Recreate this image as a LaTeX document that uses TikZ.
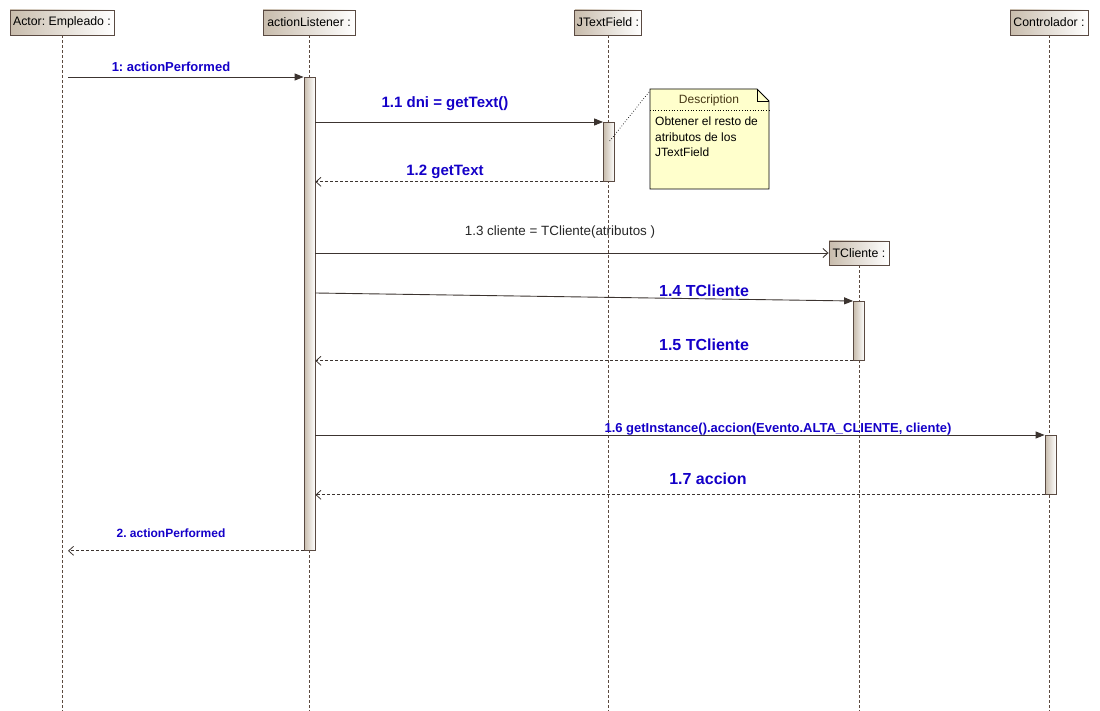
\documentclass[tikz,border=0pt]{standalone}
\usepackage{fontspec}
\setmainfont{Liberation Sans}
\usetikzlibrary{arrows.meta,calc}
\frenchspacing

\definecolor{hdr}{RGB}{90,74,66}
\definecolor{tanfill}{RGB}{200,188,172}
\definecolor{lline}{RGB}{92,74,64}
\definecolor{msg}{RGB}{60,52,48}
\definecolor{lblue}{RGB}{20,0,200}
\definecolor{notefill}{RGB}{255,255,204}
\definecolor{notehead}{RGB}{70,55,20}

\begin{document}
\begin{tikzpicture}[x=1pt,y=-1pt,
  head/.style={draw=hdr, line width=0.9pt, left color=tanfill, right color=white,
    minimum height=25pt, inner sep=2pt, text=black, font=\fontsize{12.3}{14}\selectfont},
  act/.style={draw=hdr, line width=0.8pt, left color=tanfill, right color=white,
    minimum width=11pt, inner sep=0pt},
  lifeline/.style={draw=lline, line width=0.8pt, dash pattern=on 3pt off 2pt},
  sync/.style={draw=msg, line width=0.9pt, -{Triangle[length=9pt,width=7pt]}},
  ret/.style={draw=msg, line width=0.8pt, dash pattern=on 3pt off 2pt,
    -{Straight Barb[length=5pt,width=9pt]}},
  create/.style={draw=msg, line width=0.9pt, -{Straight Barb[length=5pt,width=9pt]}},
  lbl/.style={text=lblue, inner sep=0pt, font=\bfseries\fontsize{#1}{#1}\selectfont},
  plain/.style={text=black!85, inner sep=0pt, font=\fontsize{13.4}{15}\selectfont}
]
\useasboundingbox (0,0) rectangle (1100,711);
\coordinate (bot) at (0,711);

% object heads
\node[head, minimum width=104pt] (emp) at (62,22.5) {Actor: Empleado :};
\node[head, minimum width=92pt]  (al)  at (309,22.5) {actionListener :};
\node[head, minimum width=66pt]  (jt)  at (608,22.5) {JTextField :};
\node[head, minimum width=78pt]  (ct)  at (1049,22.5) {Controlador :};
\node[head, minimum width=60pt, minimum height=24pt] (tc) at (859,253) {TCliente :};

% lifelines
\draw[lifeline] (emp.south) -- (emp.south |- bot);
\draw[lifeline] (al.south) -- (al.south |- bot);
\draw[lifeline] (jt.south) -- (jt.south |- bot);
\draw[lifeline] (ct.south) -- (ct.south |- bot);
\draw[lifeline] (tc.south) -- (tc.south |- bot);

% activation bars
\node[act, minimum height=473pt, anchor=north] (alA) at (309.5,77) {};
\node[act, minimum height=59pt, anchor=north]  (jtA) at (609,122) {};
\node[act, minimum height=59pt, anchor=north]  (tcA) at (859,301) {};
\node[act, minimum height=59pt, anchor=north]  (ctA) at (1050.5,435) {};

% messages
\draw[sync] ($(emp.south |- alA.north)+(6,0)$) -- (alA.north west);
\node[lbl=13] (m1) at (171,67) {1: actionPerformed};

\draw[sync] (alA.east |- jtA.north) -- (jtA.north west);
\node[lbl=15] (m11) at (445,104) {1.1 dni = getText()};

\draw[ret] (jtA.south west) -- (alA.east |- jtA.south);
\node[lbl=15] (m12) at (445,172) {1.2 getText};

\draw[create] (alA.east |- tc.west) -- (tc.west);
\node[plain] (m13) at (560,232) {1.3 cliente = TCliente(atributos )};

\draw[sync] (alA.east |- 0,293) -- (tcA.north west);
\node[lbl=16] (m14) at (704,291) {1.4 TCliente};

\draw[ret] (tcA.south west) -- (alA.east |- tcA.south);
\node[lbl=16] (m15) at (704,345) {1.5 TCliente};

\draw[sync] (alA.east |- ctA.north) -- (ctA.north west);
\node[lbl=13] (m16) at (778,429) {1.6 getInstance().accion(Evento.ALTA\_CLIENTE, cliente)};

\draw[ret] (ctA.south west) -- (alA.east |- ctA.south);
\node[lbl=16] (m17) at (708,479) {1.7 accion};

\draw[ret] (alA.south west) -- ($(emp.south |- alA.south)+(6,0)$);
\node[lbl=12] (m2) at (171,533) {2. actionPerformed};

% note
\draw[black, line width=0.8pt, fill=notefill]
  (650,89) -- (757,89) -- (769,101) -- (769,189) -- (650,189) -- cycle;
\draw[black, line width=0.7pt] (757,89) -- (757,101) -- (769,101);
\draw[black, dotted, line width=0.7pt] (650,110) -- (769,110);
\node[inner sep=0pt, text=notehead, font=\fontsize{12}{13}\selectfont] (nh) at (709,100) {Description};
\node[inner sep=0pt, anchor=north west, align=left, text=black,
      font=\fontsize{12}{15.5}\selectfont] (nb) at (655,117)
  {Obtener el resto de\\atributos de los\\JTextField};
\coordinate (nc) at (649,92);
\draw[black, dotted, line width=0.7pt] (nc) -- ($(jtA.center)+(0,-10)$);
\end{tikzpicture}
\end{document}
